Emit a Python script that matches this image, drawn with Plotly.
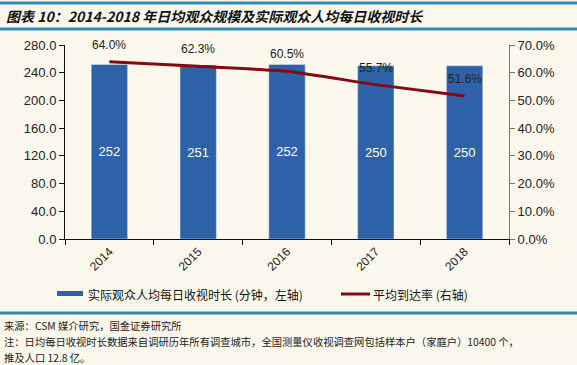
import plotly.graph_objects as go

years = ["2014", "2015", "2016", "2017", "2018"]
minutes = [252, 251, 252, 250, 250]
reach = [64.0, 62.3, 60.5, 55.7, 51.6]
left_ticks = [0, 40, 80, 120, 160, 200, 240, 280]
right_ticks = [0, 10, 20, 30, 40, 50, 60, 70]

bar_name = "实际观众人均每日收视时长 (分钟，左轴)"
line_name = "平均到达率 (右轴)"
title = "<b><i>图表 10：2014-2018 年日均观众规模及实际观众人均每日收视时长</i></b>"
source = "来源：CSM 媒介研究，国金证券研究所"
note1 = "注：日均每日收视时长数据来自调研历年所有调查城市，全国测量仪收视调查网包括样本户（家庭户）10400 个，"
note2 = "推及人口 12.8 亿。"

BLUE = "#2E62A8"
RED = "#820A10"
TEAL = "#3389B0"
BG = "#FCF8EE"
FONT = "Liberation Sans, Arial, Noto Sans CJK SC, sans-serif"
CJK = "Noto Sans CJK SC, Liberation Sans, sans-serif"

fig = go.Figure()
fig.add_trace(go.Bar(
    x=years, y=minutes, name=bar_name, marker_color=BLUE,
    text=[str(v) for v in minutes], textposition="inside",
    insidetextanchor="middle", textfont=dict(color="white", size=13, family=FONT),
    showlegend=False,
))
fig.add_trace(go.Scatter(
    x=years, y=reach, name=line_name, yaxis="y2", mode="lines",
    line=dict(color=RED, width=3, shape="spline", smoothing=0.5),
    showlegend=False,
))

annotations = []
for i, r in enumerate(reach):
    annotations.append(dict(x=i, y=r, xref="x", yref="y2", text=f"{r:.1f}%",
                            showarrow=False, yshift=17,
                            font=dict(size=12, color="#222", family=FONT)))

W, H = 577, 365
L, R, T, B = 65, 68, 45, 126
pw, ph = W - L - R, H - T - B

def px(x):
    return (x - L) / pw

def py(y):
    return (H - B - y) / ph

shapes = [
    dict(type="line", xref="paper", yref="paper", x0=px(0), x1=px(W), y0=py(3), y1=py(3),
         line=dict(color=TEAL, width=3)),
    dict(type="line", xref="paper", yref="paper", x0=px(0), x1=px(W), y0=py(29), y1=py(29),
         line=dict(color=TEAL, width=3)),
    dict(type="line", xref="paper", yref="paper", x0=px(0), x1=px(W), y0=py(313), y1=py(313),
         line=dict(color=TEAL, width=3)),
    dict(type="rect", xref="paper", yref="paper", x0=px(57), x1=px(83), y0=py(296), y1=py(291),
         fillcolor=BLUE, line=dict(width=0)),
    dict(type="line", xref="paper", yref="paper", x0=px(341), x1=px(370), y0=py(294), y1=py(294),
         line=dict(color=RED, width=3)),
]

annotations += [
    dict(xref="paper", yref="paper", x=px(4), y=py(16), text=title, showarrow=False,
         xanchor="left", yanchor="middle", font=dict(size=14, color="#111", family=CJK)),
    dict(xref="paper", yref="paper", x=px(86), y=py(294), text=bar_name, showarrow=False,
         xanchor="left", yanchor="middle", font=dict(size=12, color="#111", family=CJK)),
    dict(xref="paper", yref="paper", x=px(371), y=py(294), text=line_name, showarrow=False,
         xanchor="left", yanchor="middle", font=dict(size=12, color="#111", family=CJK)),
    dict(xref="paper", yref="paper", x=px(2), y=py(325), text=source, showarrow=False,
         xanchor="left", yanchor="middle", font=dict(size=10.3, color="#222", family=CJK)),
    dict(xref="paper", yref="paper", x=px(2), y=py(341), text=note1, showarrow=False,
         xanchor="left", yanchor="middle", font=dict(size=10.3, color="#222", family=CJK)),
    dict(xref="paper", yref="paper", x=px(2), y=py(357), text=note2, showarrow=False,
         xanchor="left", yanchor="middle", font=dict(size=10.3, color="#222", family=CJK)),
]

fig.update_layout(
    width=W, height=H,
    margin=dict(l=L, r=R, t=T, b=B, pad=0),
    paper_bgcolor=BG, plot_bgcolor=BG,
    bargap=0.59,
    font=dict(family=FONT, size=12, color="#222"),
    xaxis=dict(type="category", range=[-0.5, len(years) - 0.5], showline=True,
               linecolor="#111", linewidth=1,
               ticks="outside", tickson="boundaries", ticklen=5, tickcolor="#111",
               tickangle=-45, tickfont=dict(size=12, color="#222"), showgrid=False,
               zeroline=False),
    yaxis=dict(range=[0, 280], tickvals=left_ticks,
               ticktext=[f"{v:.1f}" for v in left_ticks],
               showline=True, linecolor="#111", linewidth=1, ticks="outside",
               ticklen=5, tickcolor="#111", showgrid=False, zeroline=False,
               tickfont=dict(size=13, color="#222")),
    yaxis2=dict(range=[0, 70], tickvals=right_ticks,
                ticktext=[f"{v:.1f}%" for v in right_ticks],
                overlaying="y", side="right", showline=True, linecolor="#777",
                linewidth=1, ticks="outside", ticklen=5, tickcolor="#777",
                showgrid=False, zeroline=False, tickfont=dict(size=13, color="#222")),
    shapes=shapes,
    annotations=annotations,
)

fig.write_html("out.html", config={"displayModeBar": False},
               post_script="document.body.style.margin='0';")
